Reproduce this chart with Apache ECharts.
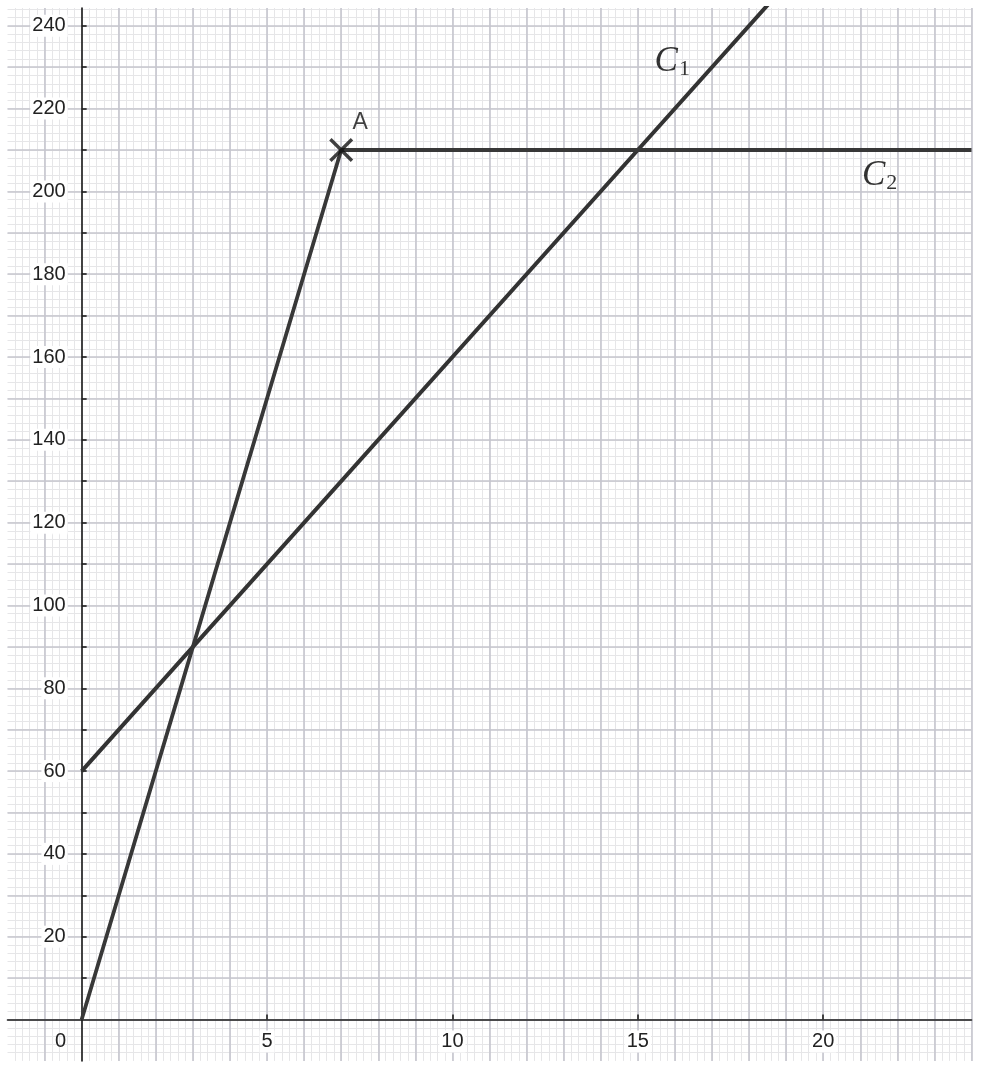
<!DOCTYPE html>
<html>
<head>
<meta charset="utf-8">
<script src="https://cdn.jsdelivr.net/npm/echarts@6/dist/echarts.min.js"></script>
<style>
html,body{margin:0;padding:0;background:#fff;}
#chart{width:982px;height:1065px;}
</style>
</head>
<body>
<div id="chart"></div>
<script>
// ---- data ----
const curveC1 = [[0, 60], [3, 90], [15, 210], [19, 250]];
const curveC2 = [[0, 0], [3, 90], [7, 210], [15, 210], [24, 210]];
const pointA = [7, 210];
const curveLabels = [
  { sub: '1', value: [15.93, 231.2] },
  { sub: '2', value: [21.52, 203.7] }
];
const xLabelValues = [0, 5, 10, 15, 20];
const xTickValues = [5, 10, 15, 20];
const yLabelValues = [20, 40, 60, 80, 100, 120, 140, 160, 180, 200, 220, 240];
const yTickValues = [10, 20, 30, 40, 50, 60, 70, 80, 90, 100, 110, 120, 130, 140, 150, 160, 170, 180, 190, 200, 210, 220, 230, 240];
const xRange = [-2, 24];
const yRange = [-10, 244.3];

// ---- layout / styles ----
const W = 982, H = 1065;
const G = { left: 7.5, right: 10.5, top: 8, bottom: 4.1 };
const pxPerX = (W - G.left - G.right) / (xRange[1] - xRange[0]);
const pxPerY = (H - G.top - G.bottom) / (yRange[1] - yRange[0]);
const originX = G.left + (0 - xRange[0]) * pxPerX;
const originY = G.top + (yRange[1] - 0) * pxPerY;

const MINOR = '#e6e6e8';
const MAJOR = '#c6c6ce';
const AXIS = '#1e1e1e';
const TEXT = '#222';
const SANS = 'Liberation Sans';
const SERIF = 'Liberation Serif';

const hidden = { axisLine: { show: false }, axisTick: { show: false }, axisLabel: { show: false } };

const chart = echarts.init(document.getElementById('chart'), null, { renderer: 'canvas' });

const xCommon = { type: 'value', min: xRange[0], max: xRange[1], gridIndex: 0 };
const yCommon = { type: 'value', min: yRange[0], max: yRange[1], gridIndex: 0 };

function near(list, v) { return list.some(t => Math.abs(t - v) < 1e-6); }

const option = {
  animation: false,
  backgroundColor: '#fff',
  textStyle: { fontFamily: SANS },
  grid: [
    { left: G.left, right: G.right, top: G.top, bottom: G.bottom, containLabel: false, outerBoundsMode: 'none' },
    { left: originX, right: G.right, top: G.top, bottom: H - originY, containLabel: false, outerBoundsMode: 'none' }
  ],
  xAxis: [
    Object.assign({}, xCommon, hidden, { interval: 0.2, z: 0,
      splitLine: { show: true, showMinLine: false, lineStyle: { color: MINOR, width: 1 } } }),
    Object.assign({}, xCommon, hidden, { interval: 1, z: 1,
      splitLine: { show: true, showMinLine: false, lineStyle: { color: MAJOR, width: 1.6 } } }),
    Object.assign({}, xCommon, { interval: 1, z: 3,
      splitLine: { show: false },
      axisLine: { show: true, onZero: true, lineStyle: { color: AXIS, width: 1.6 } },
      axisTick: { show: true, inside: false, length: 5, customValues: xTickValues, lineStyle: { color: AXIS, width: 1.6 } },
      axisLabel: { show: false }
    }),
    // label-only axis on the second grid (its bottom edge is y = 0)
    { type: 'value', gridIndex: 1, min: 0, max: xRange[1], interval: 1, z: 4, position: 'bottom',
      axisLine: { show: false }, axisTick: { show: false }, splitLine: { show: false },
      axisLabel: {
        show: true, margin: 11, hideOverlap: false,
        formatter: v => !near(xLabelValues, v) ? '' : (Math.abs(v) < 1e-6 ? '{z|0}' : '{n|' + Math.round(v) + '}'),
        rich: {
          n: { fontSize: 20, color: TEXT, fontFamily: SANS, backgroundColor: '#fff', padding: [1, 2] },
          z: { fontSize: 20, color: TEXT, fontFamily: SANS, padding: [1, 42, 1, 0] }
        }
      }
    }
  ],
  yAxis: [
    Object.assign({}, yCommon, hidden, { interval: 2, z: 0,
      splitLine: { show: true, showMinLine: false, showMaxLine: false, lineStyle: { color: MINOR, width: 1 } } }),
    Object.assign({}, yCommon, hidden, { interval: 10, z: 1,
      splitLine: { show: true, showMinLine: false, showMaxLine: false, lineStyle: { color: MAJOR, width: 1.6 } } }),
    Object.assign({}, yCommon, { interval: 10, z: 3,
      splitLine: { show: false },
      axisLine: { show: true, onZero: true, lineStyle: { color: AXIS, width: 1.6 } },
      axisTick: { show: true, inside: false, length: 5, customValues: yTickValues, lineStyle: { color: AXIS, width: 1.6 } },
      axisLabel: { show: false }
    }),
    { type: 'value', gridIndex: 1, min: 0, max: yRange[1], interval: 10, z: 4, position: 'left',
      axisLine: { show: false }, axisTick: { show: false }, splitLine: { show: false },
      axisLabel: {
        show: true, margin: 14, hideOverlap: false,
        formatter: v => near(yLabelValues, v) ? '{n|' + Math.round(v) + '}' : '',
        rich: {
          n: { fontSize: 20, color: TEXT, fontFamily: SANS, backgroundColor: '#fff', padding: [1, 2] }
        }
      }
    }
  ],
  series: [
    {
      name: 'C1', type: 'line', xAxisIndex: 2, yAxisIndex: 2, z: 5,
      data: curveC1, symbol: 'none', clip: true,
      lineStyle: { color: '#333', width: 4 }
    },
    {
      name: 'C2', type: 'line', xAxisIndex: 2, yAxisIndex: 2, z: 5,
      data: curveC2, symbol: 'none', clip: true,
      lineStyle: { color: '#383838', width: 3.8 }
    },
    {
      name: 'A', type: 'scatter', xAxisIndex: 2, yAxisIndex: 2, z: 6,
      data: [pointA],
      symbol: 'path://M0,10L10,0L50,40L90,0L100,10L60,50L100,90L90,100L50,60L10,100L0,90L40,50Z',
      symbolSize: 24,
      itemStyle: { color: '#111' },
      label: {
        show: true, formatter: 'A', position: 'inside', offset: [19, -27],
        fontSize: 23, color: '#111', fontFamily: SANS
      }
    },
    {
      name: 'labels', type: 'scatter', xAxisIndex: 2, yAxisIndex: 2, z: 6,
      data: curveLabels.map(d => ({ value: d.value, sub: d.sub })),
      symbolSize: 0,
      label: {
        show: true, position: 'inside',
        formatter: p => '{c|C}{s|' + p.data.sub + '}',
        rich: {
          c: { fontFamily: SERIF, fontStyle: 'italic', fontSize: 35, color: '#000', lineHeight: 38 },
          s: { fontFamily: SERIF, fontSize: 22, color: '#000', lineHeight: 38, padding: [14, 0, 0, 1] }
        }
      }
    }
  ]
};
chart.setOption(option);
</script>
</body>
</html>
